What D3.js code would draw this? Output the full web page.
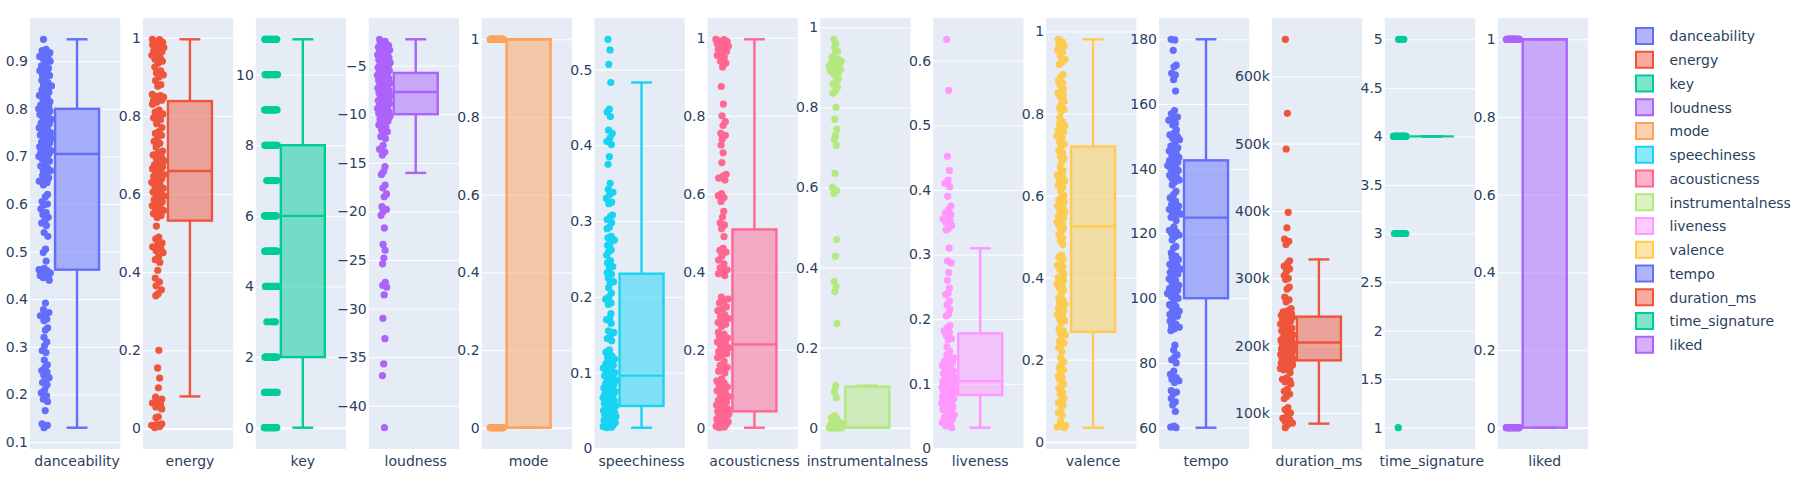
<!DOCTYPE html>
<html>
<head>
<meta charset="utf-8">
<script src="https://cdn.jsdelivr.net/npm/d3@7"></script>
<style>
	html, body { margin: 0; background: #fff; }
	svg { display: block; }
	text { font-family: "DejaVu Sans", Verdana, sans-serif; fill: #2a3f5f; }
</style>
</head>
<body>
<svg id="chart" width="1807" height="496"></svg>
<script>
const features = ["danceability", "energy", "key", "loudness", "mode", "speechiness", "acousticness", "instrumentalness", "liveness", "valence", "tempo", "duration_ms", "time_signature", "liked"];
const colors = ["#636EFA", "#EF553B", "#00CC96", "#AB63FA", "#FFA15A", "#19D3F3", "#FF6692", "#B6E880", "#FF97FF", "#FECB52", "#636EFA", "#EF553B", "#00CC96", "#AB63FA"];

// box stats, same order as features
const lowerFence = [0.13, 0.082, 0, -16.04, 0, 0.0273, 0, 0, 0.032, 0.034, 60, 84000, 4, 0];
const q1 = [0.462, 0.532, 2, -10, 0, 0.056, 0.042, 0, 0.0826, 0.2675, 100, 178000, 4, 0];
const medians = [0.705, 0.659, 6, -7.71, 1, 0.096, 0.2137, 0.0003, 0.104, 0.525, 124.9, 204500, 4, 1];
const q3 = [0.8, 0.838, 8, -5.75, 1, 0.2306, 0.5085, 0.1024, 0.178, 0.7195, 142.6, 243000, 4, 1];
const upperFence = [0.946, 0.996, 11, -2.29, 1, 0.483, 0.996, 0.105, 0.3096, 0.981, 180, 328000, 4, 1];

const tickValues = [
	[0.1, 0.2, 0.3, 0.4, 0.5, 0.6, 0.7, 0.8, 0.9],
	[0, 0.2, 0.4, 0.6, 0.8, 1],
	[0, 2, 4, 6, 8, 10],
	[-40, -35, -30, -25, -20, -15, -10, -5],
	[0, 0.2, 0.4, 0.6, 0.8, 1],
	[0, 0.1, 0.2, 0.3, 0.4, 0.5],
	[0, 0.2, 0.4, 0.6, 0.8, 1],
	[0, 0.2, 0.4, 0.6, 0.8, 1],
	[0, 0.1, 0.2, 0.3, 0.4, 0.5, 0.6],
	[0, 0.2, 0.4, 0.6, 0.8, 1],
	[60, 80, 100, 120, 140, 160, 180],
	[100000, 200000, 300000, 400000, 500000, 600000],
	[1, 1.5, 2, 2.5, 3, 3.5, 4, 4.5, 5],
	[0, 0.2, 0.4, 0.6, 0.8, 1],
];

const danceability = [0.946, 0.925, 0.922, 0.918, 0.915, 0.91, 0.908, 0.905, 0.9, 0.895, 0.89, 0.885, 0.882, 0.88, 0.875, 0.87, 0.87, 0.865, 0.86, 0.855, 0.85, 0.848, 0.845, 0.84, 0.835, 0.83, 0.828, 0.825, 0.82, 0.815, 0.81, 0.808, 0.805, 0.802, 0.8, 0.8, 0.798, 0.795, 0.79, 0.788, 0.785, 0.78, 0.778, 0.775, 0.77, 0.768, 0.765, 0.76, 0.757, 0.755, 0.75, 0.748, 0.745, 0.74, 0.74, 0.738, 0.735, 0.73, 0.728, 0.725, 0.72, 0.718, 0.715, 0.712, 0.71, 0.708, 0.705, 0.702, 0.7, 0.698, 0.695, 0.69, 0.685, 0.68, 0.675, 0.672, 0.67, 0.665, 0.66, 0.655, 0.65, 0.648, 0.645, 0.64, 0.62, 0.615, 0.605, 0.6, 0.598, 0.59, 0.582, 0.578, 0.572, 0.565, 0.56, 0.555, 0.54, 0.532, 0.505, 0.498, 0.48, 0.465, 0.462, 0.46, 0.457, 0.455, 0.452, 0.45, 0.447, 0.445, 0.44, 0.392, 0.378, 0.372, 0.368, 0.365, 0.358, 0.355, 0.34, 0.335, 0.32, 0.31, 0.302, 0.292, 0.288, 0.272, 0.262, 0.257, 0.25, 0.247, 0.24, 0.235, 0.23, 0.225, 0.22, 0.21, 0.203, 0.197, 0.19, 0.185, 0.166, 0.138, 0.135, 0.13];
const energy = [0.996, 0.995, 0.99, 0.988, 0.985, 0.982, 0.98, 0.978, 0.975, 0.97, 0.968, 0.965, 0.96, 0.955, 0.95, 0.945, 0.94, 0.935, 0.925, 0.915, 0.91, 0.905, 0.9, 0.89, 0.88, 0.876, 0.855, 0.852, 0.85, 0.848, 0.845, 0.84, 0.84, 0.835, 0.83, 0.815, 0.81, 0.805, 0.8, 0.795, 0.79, 0.78, 0.77, 0.76, 0.755, 0.75, 0.74, 0.735, 0.73, 0.72, 0.71, 0.705, 0.7, 0.695, 0.69, 0.685, 0.68, 0.675, 0.67, 0.668, 0.665, 0.66, 0.655, 0.65, 0.648, 0.645, 0.64, 0.635, 0.63, 0.625, 0.62, 0.615, 0.61, 0.605, 0.6, 0.598, 0.595, 0.59, 0.585, 0.58, 0.575, 0.57, 0.565, 0.56, 0.558, 0.555, 0.55, 0.545, 0.54, 0.518, 0.49, 0.485, 0.475, 0.47, 0.465, 0.46, 0.455, 0.45, 0.44, 0.432, 0.425, 0.405, 0.385, 0.375, 0.365, 0.355, 0.345, 0.34, 0.2, 0.155, 0.129, 0.104, 0.08, 0.075, 0.07, 0.065, 0.06, 0.055, 0.05, 0.03, 0.028, 0.012, 0.01, 0.008, 0.005, 0.002];
const key = [0, 0, 0, 0, 0, 0, 0, 0, 0, 0, 0, 0, 0, 0, 0, 0, 0, 0, 0, 0, 1, 1, 1, 1, 1, 1, 1, 1, 1, 1, 1, 1, 1, 1, 1, 2, 2, 2, 2, 2, 2, 2, 2, 2, 2, 2, 2, 2, 2, 2, 3, 3, 3, 3, 4, 4, 4, 4, 4, 4, 4, 4, 4, 4, 5, 5, 5, 5, 5, 5, 5, 5, 5, 5, 5, 5, 5, 5, 6, 6, 6, 6, 6, 6, 6, 6, 6, 6, 6, 6, 6, 6, 6, 6, 6, 7, 7, 7, 7, 7, 7, 7, 8, 8, 8, 8, 8, 8, 8, 8, 8, 8, 8, 8, 8, 8, 8, 8, 8, 8, 9, 9, 9, 9, 9, 9, 9, 9, 9, 9, 9, 9, 9, 10, 10, 10, 10, 10, 10, 10, 10, 10, 10, 10, 10, 10, 10, 11, 11, 11, 11, 11, 11, 11, 11, 11, 11, 11, 11, 11, 11, 11, 11];
const loudness = [-2.29, -2.5, -2.7, -2.9, -3, -3.1, -3.2, -3.3, -3.4, -3.5, -3.6, -3.7, -3.8, -3.9, -4, -4.1, -4.2, -4.3, -4.4, -4.5, -4.6, -4.7, -4.8, -4.9, -5, -5.1, -5.2, -5.3, -5.4, -5.5, -5.6, -5.7, -5.8, -5.9, -6, -6.1, -6.2, -6.3, -6.4, -6.5, -6.6, -6.7, -6.8, -6.9, -7, -7.1, -7.2, -7.3, -7.4, -7.5, -7.6, -7.7, -7.8, -7.9, -8, -8.1, -8.2, -8.3, -8.4, -8.5, -8.6, -8.7, -8.8, -8.9, -9, -9.1, -9.2, -9.3, -9.4, -9.5, -9.6, -9.7, -9.8, -9.9, -10, -10.1, -10.2, -10.3, -10.5, -10.7, -10.9, -11.1, -11.3, -11.6, -11.8, -12, -12.3, -12.5, -13.2, -13.6, -13.9, -14.2, -15.4, -15.9, -16.2, -17.3, -17.6, -18.2, -18.5, -19.5, -19.8, -20, -20.4, -21.7, -23.4, -24, -24.8, -25.4, -27.3, -27.6, -27.8, -28.6, -31, -33.1, -35.7, -36.9, -42.26];
const mode = [0, 0, 0, 0, 0, 0, 0, 0, 0, 0, 0, 0, 0, 0, 0, 0, 0, 0, 0, 0, 0, 0, 0, 0, 0, 0, 0, 0, 0, 0, 1, 1, 1, 1, 1, 1, 1, 1, 1, 1, 1, 1, 1, 1, 1, 1, 1, 1, 1, 1, 1, 1, 1, 1, 1, 1, 1, 1, 1, 1, 1, 1, 1, 1, 1, 1, 1, 1, 1, 1];
const speechiness = [0.54, 0.526, 0.507, 0.483, 0.448, 0.444, 0.438, 0.42, 0.416, 0.41, 0.405, 0.401, 0.385, 0.375, 0.35, 0.342, 0.338, 0.335, 0.33, 0.325, 0.323, 0.308, 0.306, 0.302, 0.298, 0.292, 0.29, 0.28, 0.278, 0.275, 0.27, 0.268, 0.262, 0.26, 0.255, 0.248, 0.245, 0.24, 0.238, 0.232, 0.23, 0.225, 0.22, 0.218, 0.212, 0.205, 0.2, 0.197, 0.192, 0.19, 0.178, 0.172, 0.17, 0.165, 0.155, 0.153, 0.15, 0.145, 0.142, 0.13, 0.127, 0.122, 0.12, 0.118, 0.115, 0.112, 0.11, 0.108, 0.106, 0.104, 0.102, 0.1, 0.098, 0.096, 0.094, 0.092, 0.09, 0.088, 0.086, 0.084, 0.082, 0.08, 0.078, 0.076, 0.075, 0.073, 0.072, 0.07, 0.068, 0.067, 0.066, 0.064, 0.063, 0.062, 0.06, 0.059, 0.058, 0.056, 0.055, 0.054, 0.052, 0.051, 0.05, 0.049, 0.048, 0.047, 0.046, 0.045, 0.044, 0.043, 0.042, 0.041, 0.04, 0.039, 0.038, 0.037, 0.036, 0.035, 0.034, 0.033, 0.032, 0.031, 0.03, 0.029, 0.028, 0.0273];
const acousticness = [0.996, 0.995, 0.992, 0.99, 0.988, 0.985, 0.983, 0.98, 0.978, 0.975, 0.97, 0.965, 0.96, 0.955, 0.95, 0.94, 0.935, 0.925, 0.875, 0.83, 0.8, 0.785, 0.775, 0.755, 0.75, 0.74, 0.725, 0.705, 0.68, 0.65, 0.645, 0.64, 0.635, 0.6, 0.595, 0.59, 0.58, 0.555, 0.54, 0.525, 0.52, 0.51, 0.49, 0.46, 0.455, 0.45, 0.44, 0.43, 0.42, 0.41, 0.405, 0.4, 0.395, 0.39, 0.335, 0.33, 0.325, 0.32, 0.31, 0.305, 0.3, 0.29, 0.285, 0.28, 0.275, 0.27, 0.265, 0.26, 0.245, 0.24, 0.235, 0.23, 0.225, 0.22, 0.215, 0.21, 0.205, 0.2, 0.195, 0.19, 0.185, 0.18, 0.17, 0.16, 0.155, 0.15, 0.145, 0.14, 0.125, 0.12, 0.115, 0.11, 0.105, 0.1, 0.095, 0.09, 0.085, 0.08, 0.075, 0.07, 0.065, 0.06, 0.058, 0.055, 0.05, 0.048, 0.045, 0.042, 0.04, 0.038, 0.035, 0.032, 0.03, 0.028, 0.025, 0.022, 0.02, 0.018, 0.015, 0.013, 0.01, 0.008, 0.006, 0.004, 0.002, 0];
const instrumentalness = [0.97, 0.96, 0.95, 0.94, 0.935, 0.925, 0.92, 0.918, 0.915, 0.912, 0.91, 0.908, 0.905, 0.903, 0.9, 0.898, 0.895, 0.892, 0.89, 0.885, 0.88, 0.87, 0.865, 0.858, 0.85, 0.84, 0.835, 0.8, 0.77, 0.745, 0.73, 0.72, 0.705, 0.635, 0.6, 0.592, 0.585, 0.47, 0.428, 0.365, 0.352, 0.34, 0.26, 0.105, 0.09, 0.075, 0.03, 0.025, 0.02, 0.015, 0.012, 0.01, 0.008, 0.006, 0.005, 0.004, 0.003, 0.002, 0.002, 0.001, 0.001, 0.001, 0.001, 0.001, 0, 0, 0, 0, 0, 0, 0, 0, 0, 0, 0, 0, 0, 0, 0, 0, 0, 0, 0, 0, 0, 0, 0, 0];
const liveness = [0.633, 0.554, 0.452, 0.43, 0.415, 0.41, 0.405, 0.39, 0.375, 0.37, 0.365, 0.362, 0.358, 0.355, 0.352, 0.35, 0.345, 0.34, 0.338, 0.31, 0.29, 0.287, 0.272, 0.26, 0.248, 0.24, 0.238, 0.228, 0.222, 0.215, 0.208, 0.205, 0.19, 0.187, 0.182, 0.18, 0.175, 0.17, 0.168, 0.157, 0.15, 0.145, 0.14, 0.137, 0.135, 0.132, 0.13, 0.128, 0.125, 0.123, 0.12, 0.118, 0.116, 0.114, 0.112, 0.11, 0.108, 0.107, 0.106, 0.105, 0.104, 0.103, 0.102, 0.1, 0.099, 0.098, 0.097, 0.096, 0.095, 0.094, 0.093, 0.092, 0.09, 0.089, 0.088, 0.087, 0.086, 0.085, 0.084, 0.083, 0.082, 0.08, 0.079, 0.078, 0.077, 0.076, 0.075, 0.073, 0.072, 0.07, 0.068, 0.066, 0.064, 0.062, 0.06, 0.058, 0.055, 0.052, 0.05, 0.047, 0.045, 0.043, 0.04, 0.038, 0.035, 0.032];
const valence = [0.981, 0.975, 0.97, 0.965, 0.96, 0.955, 0.95, 0.94, 0.932, 0.925, 0.92, 0.895, 0.89, 0.88, 0.875, 0.87, 0.86, 0.855, 0.85, 0.845, 0.84, 0.83, 0.825, 0.815, 0.81, 0.805, 0.79, 0.78, 0.775, 0.77, 0.765, 0.76, 0.755, 0.75, 0.745, 0.74, 0.73, 0.725, 0.72, 0.71, 0.705, 0.695, 0.69, 0.68, 0.67, 0.66, 0.655, 0.65, 0.645, 0.64, 0.635, 0.63, 0.625, 0.62, 0.61, 0.6, 0.595, 0.59, 0.585, 0.58, 0.575, 0.57, 0.565, 0.56, 0.555, 0.55, 0.545, 0.54, 0.535, 0.53, 0.525, 0.52, 0.51, 0.505, 0.495, 0.49, 0.48, 0.455, 0.45, 0.445, 0.435, 0.43, 0.425, 0.42, 0.41, 0.405, 0.4, 0.395, 0.39, 0.385, 0.38, 0.375, 0.37, 0.36, 0.35, 0.345, 0.34, 0.335, 0.33, 0.325, 0.32, 0.315, 0.31, 0.305, 0.3, 0.295, 0.29, 0.275, 0.27, 0.265, 0.26, 0.255, 0.245, 0.24, 0.235, 0.23, 0.22, 0.205, 0.195, 0.19, 0.18, 0.175, 0.17, 0.16, 0.155, 0.15, 0.14, 0.135, 0.13, 0.12, 0.115, 0.105, 0.1, 0.095, 0.09, 0.08, 0.07, 0.065, 0.05, 0.04, 0.038, 0.036, 0.034];
const tempo = [180, 179.8, 176.6, 172, 171.5, 169.5, 169, 167.5, 164, 158, 157, 156, 155.5, 155, 154, 153.5, 152, 151, 150.5, 150, 149.5, 149, 148, 147, 146.5, 146, 145.5, 145, 144, 143.5, 143, 142.5, 142, 141.5, 141, 140.5, 140, 139.5, 139, 138, 137.5, 137, 136.5, 136, 135, 133, 132, 131, 130, 129, 128.5, 128, 127.5, 127, 126.5, 126, 125.5, 125, 124, 122, 121, 120.5, 120, 119.5, 119, 118, 116, 115.5, 114, 113, 112.5, 112, 111, 110.5, 110, 109.5, 109, 108.5, 108, 107.5, 107, 106, 105.5, 105, 104, 103.5, 103, 102.5, 102, 101.5, 101, 100.5, 100, 99, 98, 97.5, 97, 96, 95.5, 95, 94.5, 94, 93, 92, 91.5, 91, 90.5, 90, 85.5, 84, 82.5, 82, 81, 80, 77.5, 76.5, 75.5, 75, 74.5, 74, 71.5, 71, 70.5, 69, 68, 67, 65, 60.5, 60.2, 60];
const duration_ms = [655000, 545000, 492000, 398000, 375000, 358000, 355000, 350000, 326000, 322000, 318000, 314000, 310000, 304000, 300000, 298000, 287000, 284000, 272000, 268000, 265000, 255000, 252000, 250000, 248000, 246000, 245000, 244000, 243000, 242000, 240000, 238000, 236000, 234000, 232000, 230000, 228000, 226000, 224000, 222000, 220000, 218000, 216000, 214000, 212000, 210000, 209000, 208000, 207000, 206000, 205000, 204000, 203000, 202000, 201000, 200000, 199000, 198000, 197000, 196000, 195000, 194000, 193000, 192000, 191000, 190000, 189000, 188000, 187000, 186000, 185000, 184000, 183000, 182000, 181000, 180000, 179000, 178000, 177000, 176000, 175000, 174000, 173000, 172000, 171000, 170000, 169000, 168000, 167000, 166000, 165000, 164000, 160000, 152000, 150000, 148000, 146000, 143000, 135000, 132000, 128000, 124000, 121000, 108000, 105000, 100000, 96000, 92000, 90000, 87000, 85000, 83000, 78000];
const time_signature = [1, 3, 3, 3, 3, 3, 3, 3, 3, 3, 3, 4, 4, 4, 4, 4, 4, 4, 4, 4, 4, 4, 4, 4, 4, 4, 4, 4, 4, 4, 4, 4, 4, 4, 4, 4, 4, 4, 4, 4, 4, 5, 5, 5];
const liked = [0, 0, 0, 0, 0, 0, 0, 0, 0, 0, 0, 0, 0, 0, 0, 0, 0, 0, 0, 0, 0, 0, 0, 0, 0, 0, 0, 0, 0, 0, 1, 1, 1, 1, 1, 1, 1, 1, 1, 1, 1, 1, 1, 1, 1, 1, 1, 1, 1, 1, 1, 1, 1, 1, 1, 1, 1, 1, 1, 1];
const values = [danceability, energy, key, loudness, mode, speechiness, acousticness, instrumentalness, liveness, valence, tempo, duration_ms, time_signature, liked];

const svg = d3.select("#chart");

// the panels, one band per feature
const panelX = d3.scaleBand().domain(features).range([30, 1588]).paddingInner(0.2);
const panelTop = 18;
const panelBottom = 449;
const panelW = panelX.bandwidth();

// same x units in every panel, box sits at 0
const X_RANGE = [-0.855, 0.787];
const POINT_POS = -0.58;
const JITTER = 0.12;
const BOX_HALF = 0.4;
const CAP_HALF = 0.19;

features.forEach((name, i) => {
	const color = colors[i];
	const pts = values[i];

	const x = d3.scaleLinear().domain(X_RANGE).range([0, panelW]);
	// autorange: data extent sits a fixed distance inside the panel
	const y = d3.scaleLinear().domain(d3.extent(pts)).range([427.7, 39.3]);

	const g = svg.append("g").attr("transform", `translate(${panelX(name)}, 0)`);

	g.append("rect")
		.attr("y", panelTop)
		.attr("width", panelW)
		.attr("height", panelBottom - panelTop)
		.attr("fill", "#E5ECF6");

	const yAxis = g.append("g")
		.call(d3.axisLeft(y)
			.tickValues(tickValues[i])
			.tickSize(-panelW)
			.tickPadding(2)
			.tickFormat(name === "duration_ms" ? d3.format("~s") : d3.format("~g")));
	yAxis.select(".domain").remove();
	yAxis.selectAll("line")
		.attr("stroke", "#fff")
		.attr("stroke-width", (d) => (d === 0 ? 2 : 1));
	yAxis.selectAll("text")
		.style("font-size", "14px")
		.attr("fill", null);

	// category axis, its band is also the box width
	const band = d3.scaleBand().domain([name]).range([x(-BOX_HALF), x(BOX_HALF)]);
	const xAxis = g.append("g")
		.attr("transform", `translate(0, ${panelBottom})`)
		.call(d3.axisBottom(band).tickSize(0).tickPadding(7));
	xAxis.select(".domain").remove();
	xAxis.selectAll("text")
		.style("font-size", "14px")
		.attr("fill", null);

	const box = g.append("g")
		.attr("fill", "none")
		.attr("stroke", color)
		.attr("stroke-width", 2.4);

	box.append("rect")
		.attr("x", band(name))
		.attr("y", y(q3[i]))
		.attr("width", band.bandwidth())
		.attr("height", y(q1[i]) - y(q3[i]))
		.attr("fill", color)
		.attr("fill-opacity", 0.5);

	box.append("line")
		.attr("x1", x(-BOX_HALF))
		.attr("x2", x(BOX_HALF))
		.attr("y1", y(medians[i]))
		.attr("y2", y(medians[i]));

	// whiskers
	[[q3[i], upperFence[i]], [q1[i], lowerFence[i]]].forEach(([from, to]) => {
		box.append("line")
			.attr("x1", x(0))
			.attr("x2", x(0))
			.attr("y1", y(from))
			.attr("y2", y(to));
		box.append("line")
			.attr("x1", x(-CAP_HALF))
			.attr("x2", x(CAP_HALF))
			.attr("y1", y(to))
			.attr("y2", y(to));
	});

	// jitter is wider where points crowd, golden ratio steps keep it repeatable
	const crowd = pts.map((v) => pts.filter((o) => Math.abs(y(o) - y(v)) < 4).length);
	g.append("g")
		.attr("fill", color)
		.selectAll("circle")
		.data(pts)
		.join("circle")
		.attr("r", 3.6)
		.attr("cx", (d, j) => {
			const spread = Math.min(1, 0.25 + (crowd[j] - 1) / 5);
			const step = ((j * 0.618034) % 1) * 2 - 1;
			return x(POINT_POS + JITTER * spread * step);
		})
		.attr("cy", (d) => y(d));
});

// legend
const legendY = d3.scaleBand().domain(features).range([25, 357.5]);
const legend = svg.append("g")
	.selectAll("g")
	.data(features)
	.join("g")
	.attr("transform", (d) => `translate(1636, ${legendY(d)})`);

legend.append("rect")
	.attr("y", 3)
	.attr("width", 17)
	.attr("height", 16)
	.attr("fill", (d, i) => colors[i])
	.attr("fill-opacity", 0.5)
	.attr("stroke", (d, i) => colors[i])
	.attr("stroke-width", 2);

legend.append("text")
	.attr("x", 33.5)
	.attr("y", 11.5)
	.attr("dy", "0.35em")
	.style("font-size", "14px")
	.text((d) => d);
</script>
</body>
</html>
